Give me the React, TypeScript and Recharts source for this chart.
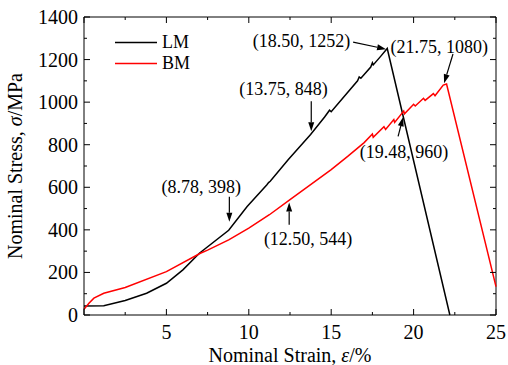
import React from "react";
import {
  LineChart,
  Line,
  XAxis,
  YAxis,
  Legend,
  ReferenceLine,
  ReferenceDot,
} from "recharts";

// LM (black) strain / stress
const lmStrain = [0, 1.2, 2.5, 3.8, 5.0, 6.0, 7.0, 8.78, 9.9, 11.1, 11.2, 11.3, 12.4, 13.75, 14.6, 14.9, 15.0, 15.8, 16.6, 16.7, 16.8, 17.4, 17.5, 17.55, 18.0, 18.4, 22.2];
const lmStress = [42, 44, 68, 102, 149, 212, 290, 398, 510, 612, 622, 628, 730, 848, 930, 962, 955, 1028, 1100, 1118, 1112, 1165, 1185, 1175, 1215, 1252, 0];

// BM (red)
const bmStrain = [0, 0.3, 0.6, 1.2, 2.5, 5.0, 7.06, 7.5, 8.78, 10.0, 11.25, 12.5, 13.75, 15.0, 16.0, 17.0, 17.5, 17.55, 18.2, 18.3, 18.8, 18.85, 19.4, 19.45, 20.0, 20.1, 20.6, 20.7, 21.2, 21.3, 21.8, 22.0, 25];
const bmStress = [27, 55, 79, 102, 129, 204, 290, 305, 353, 408, 471, 542, 612, 683, 745, 810, 850, 835, 885, 872, 918, 905, 958, 945, 990, 982, 1018, 1008, 1040, 1030, 1080, 1085, 133];

const xTicks = [0, 2.5, 5, 7.5, 10, 12.5, 15, 17.5, 20, 22.5, 25];
const yTicks = [0, 100, 200, 300, 400, 500, 600, 700, 800, 900, 1000, 1100, 1200, 1300, 1400];
const X_MAX = 25;
const Y_MAX = 1400;

// annotation labels and arrows (text, label point, arrow start, arrow tip)
const notes = [
  { text: "(18.50, 1252)", lx: 13.2, ly: 1287, anchor: "middle", from: [16.33, 1282], to: [18.33, 1249] },
  { text: "(21.75, 1080)", lx: 18.6, ly: 1259, anchor: "start", from: [22.39, 1226], to: [21.85, 1089] },
  { text: "(13.75, 848)", lx: 12.1, ly: 1061, anchor: "middle", from: [13.79, 1004], to: [13.79, 863] },
  { text: "(19.48, 960)", lx: 19.42, ly: 768, anchor: "middle", from: [19.06, 839], to: [19.36, 929] },
  { text: "(8.78, 398)", lx: 7.12, ly: 603, anchor: "middle", from: [8.82, 556], to: [8.82, 438] },
  { text: "(12.50, 544)", lx: 13.6, ly: 358, anchor: "middle", from: [12.45, 424], to: [12.45, 528] },
];

const lmData = lmStrain.map((x, i) => ({ x, y: lmStress[i] }));
const bmData = bmStrain.map((x, i) => ({ x, y: bmStress[i] }));

// top + right frame, walked along the tick positions (drawn through the chart scales)
const frameData = [
  ...xTicks.map((v) => ({ x: v, y: Y_MAX, side: "top", major: v % 5 === 0 })),
  ...[...yTicks].reverse().map((v) => ({ x: X_MAX, y: v, side: "right", major: v % 200 === 0 })),
];

const FONT = "'Liberation Serif', 'Times New Roman', serif";

const BottomTick = (props: any) => {
  const { x, y, payload } = props;
  const v = payload.value;
  const major = v % 5 === 0;
  return (
    <g>
      <line x1={x} x2={x} y1={y} y2={y - (major ? 6 : 3)} stroke="#000" />
      {major && v !== 0 && (
        <text x={x} y={y + 24} textAnchor="middle" fontFamily={FONT} fontSize={20} fill="#000">
          {v}
        </text>
      )}
    </g>
  );
};

const LeftTick = (props: any) => {
  const { x, y, payload } = props;
  const v = payload.value;
  const major = v % 200 === 0;
  return (
    <g>
      <line x1={x} x2={x + (major ? 6 : 3)} y1={y} y2={y} stroke="#000" />
      {major && (
        <text x={x - 6} y={y + 7} textAnchor="end" fontFamily={FONT} fontSize={20} fill="#000">
          {v}
        </text>
      )}
    </g>
  );
};

const FrameTick = (props: any) => {
  const { cx, cy, payload, index } = props;
  if (cx == null || cy == null) return <g key={"ft" + index} />;
  const len = payload.major ? 6 : 3;
  if (payload.side === "top") {
    return <line key={"ft" + index} x1={cx} x2={cx} y1={cy} y2={cy + len} stroke="#000" />;
  }
  return <line key={"ft" + index} x1={cx} x2={cx - len} y1={cy} y2={cy} stroke="#000" />;
};

const Arrow = (props: any) => {
  const { x1, y1, x2, y2 } = props;
  const ang = Math.atan2(y2 - y1, x2 - x1);
  const len = 9;
  const w = 3;
  const bx = x2 - len * Math.cos(ang);
  const by = y2 - len * Math.sin(ang);
  const px = -Math.sin(ang) * w;
  const py = Math.cos(ang) * w;
  return (
    <g>
      <line x1={x1} y1={y1} x2={bx} y2={by} stroke="#000" strokeWidth={1.2} />
      <polygon points={`${x2},${y2} ${bx + px},${by + py} ${bx - px},${by - py}`} fill="#000" />
    </g>
  );
};

const LegendBox = () => (
  <div style={{ fontFamily: FONT, fontSize: 18, color: "#000", lineHeight: "21px" }}>
    {[
      { name: "LM", color: "#000" },
      { name: "BM", color: "#ff0000" },
    ].map((s) => (
      <div key={s.name} style={{ display: "flex", alignItems: "center" }}>
        <svg width={47} height={21}>
          <line x1={0} x2={42} y1={10.5} y2={10.5} stroke={s.color} strokeWidth={1.5} />
        </svg>
        <span>{s.name}</span>
      </div>
    ))}
  </div>
);

export default function App() {
  return (
    <div style={{ position: "absolute", left: 0, top: 0, background: "#fff" }}>
      <LineChart width={508} height={365} margin={{ top: 17, right: 12, left: 0, bottom: 0 }}>
        <XAxis
          dataKey="x"
          type="number"
          domain={[0, X_MAX]}
          ticks={xTicks}
          height={50}
          tickSize={0}
          tickMargin={0}
          tickLine={false}
          tick={<BottomTick />}
          stroke="#000"
          interval={0}
          label={(p: any) => {
            const vb = p.viewBox;
            return (
              <text x={vb.x + vb.width / 2} y={362} textAnchor="middle" fontFamily={FONT} fontSize={20} fill="#000">
                Nominal Strain, <tspan fontStyle="italic">ε</tspan>/%
              </text>
            );
          }}
        />
        <YAxis
          type="number"
          domain={[0, Y_MAX]}
          ticks={yTicks}
          width={84}
          tickSize={0}
          tickMargin={0}
          tickLine={false}
          tick={<LeftTick />}
          stroke="#000"
          interval={0}
          label={(p: any) => {
            const vb = p.viewBox;
            const cy = vb.y + vb.height / 2;
            return (
              <text x={22} y={cy} transform={`rotate(-90, 22, ${cy})`} textAnchor="middle" fontFamily={FONT} fontSize={20} fill="#000">
                Nominal Stress, <tspan fontStyle="italic">σ</tspan>/MPa
              </text>
            );
          }}
        />
        <Legend
          content={<LegendBox />}
          layout="horizontal"
          verticalAlign="middle"
          align="center"
          wrapperStyle={{ top: 32, left: 115, width: "auto" }}
        />

        <Line
          data={frameData}
          dataKey="y"
          name="frame"
          legendType="none"
          type="linear"
          stroke="#000"
          strokeWidth={1}
          dot={(p: any) => <FrameTick {...p} />}
          activeDot={false}
          isAnimationActive={false}
        />
        <Line
          data={lmData}
          dataKey="y"
          name="LM"
          type="linear"
          stroke="#000"
          strokeWidth={1.5}
          dot={false}
          isAnimationActive={false}
        />
        <Line
          data={bmData}
          dataKey="y"
          name="BM"
          type="linear"
          stroke="#ff0000"
          strokeWidth={1.5}
          dot={false}
          isAnimationActive={false}
        />
        {notes.map((n) => (
          <ReferenceLine
            key={"a" + n.text}
            segment={[
              { x: n.from[0], y: n.from[1] },
              { x: n.to[0], y: n.to[1] },
            ]}
            shape={(p: any) => <Arrow {...p} />}
          />
        ))}
        {notes.map((n) => (
          <ReferenceDot
            key={"t" + n.text}
            x={n.lx}
            y={n.ly}
            r={0}
            shape={(p: any) => (
              <text x={p.cx} y={p.cy + 6} textAnchor={n.anchor as any} fontFamily={FONT} fontSize={18} fill="#000">
                {n.text}
              </text>
            )}
          />
        ))}
      </LineChart>
    </div>
  );
}
